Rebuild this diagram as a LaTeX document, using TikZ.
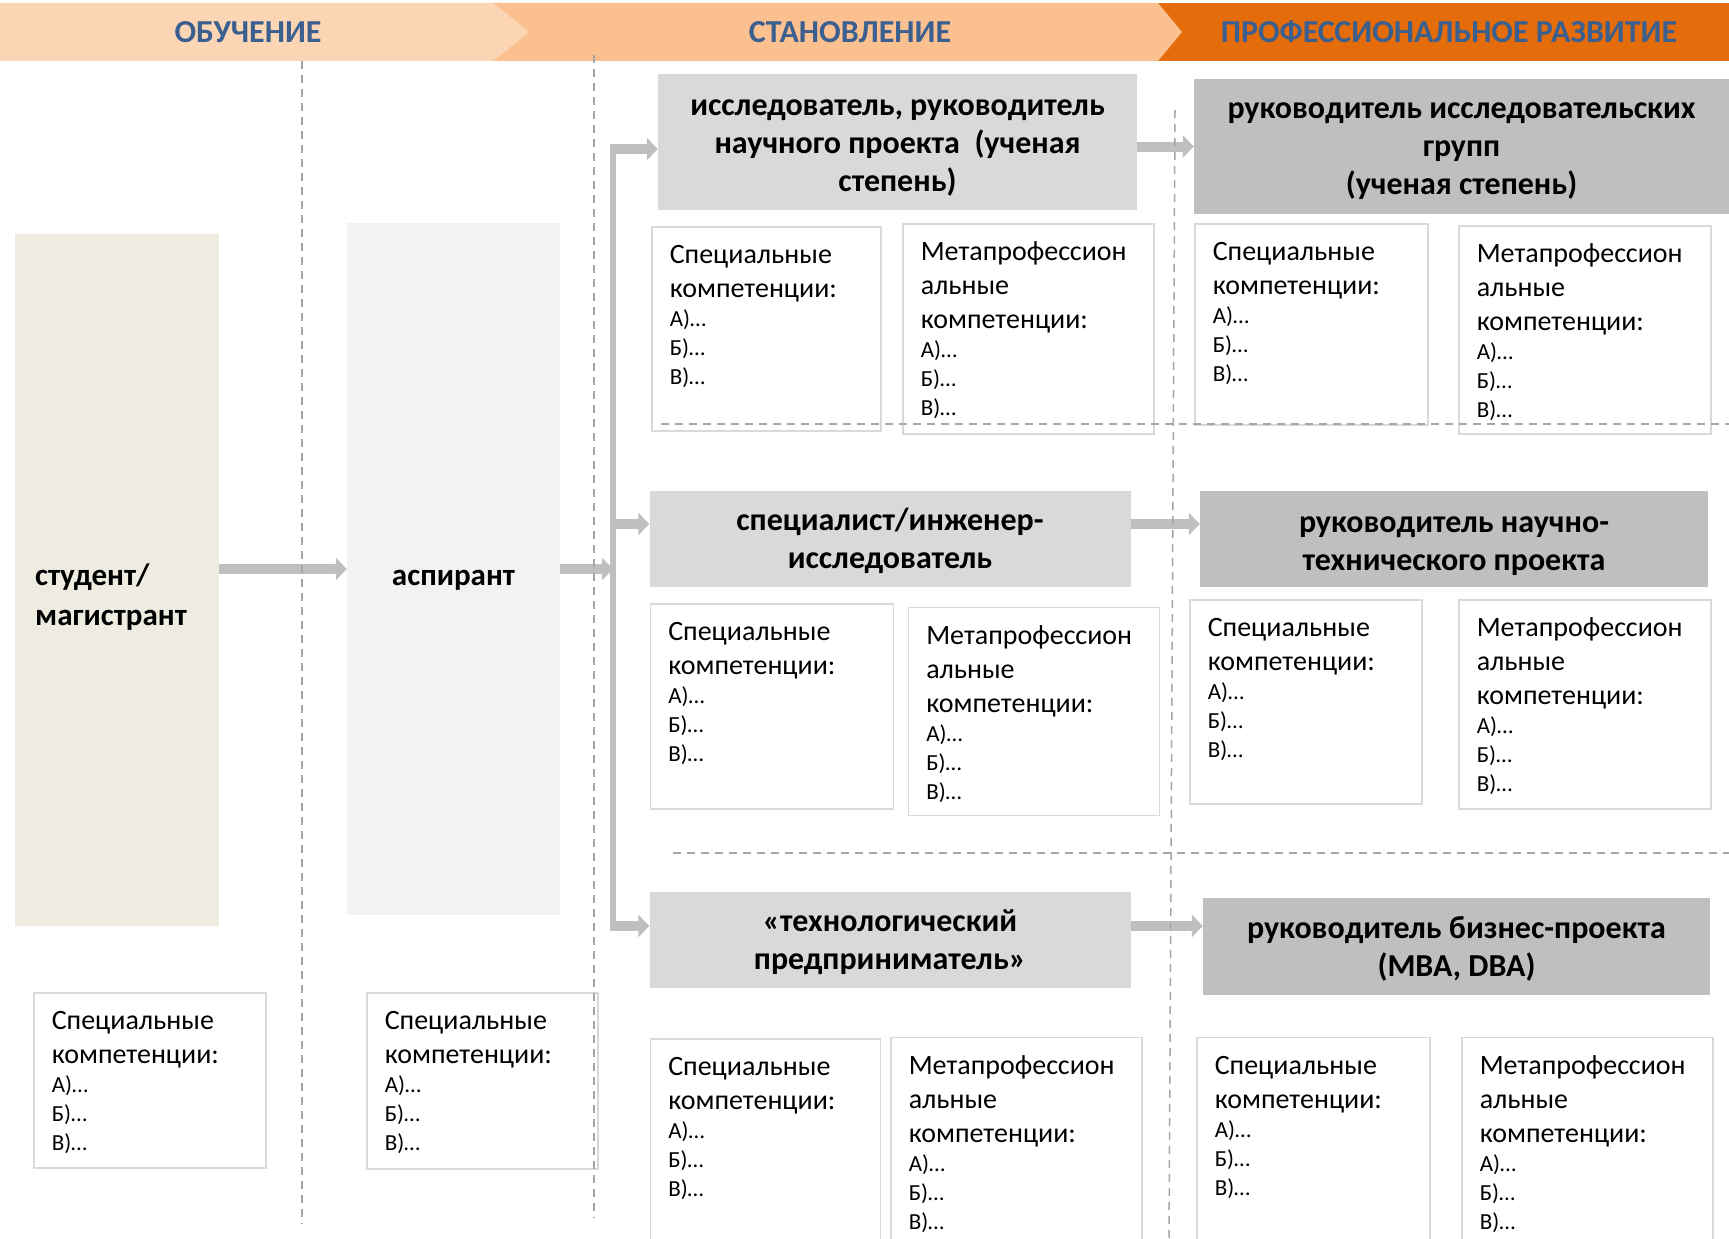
\documentclass[tikz,border=0pt]{standalone}
\usepackage{fontspec}
\setmainfont{Carlito}
\usetikzlibrary{arrows.meta}
\definecolor{hdrA}{HTML}{FCD5B5}
\definecolor{hdrB}{HTML}{FAC090}
\definecolor{hdrC}{HTML}{E46C0A}
\definecolor{hdrtxt}{HTML}{3B5F8E}
\definecolor{beige}{HTML}{EEECE1}
\definecolor{aspgray}{HTML}{F2F2F2}
\definecolor{rolelt}{HTML}{D9D9D9}
\definecolor{roledk}{HTML}{BFBFBF}
\definecolor{arrgray}{HTML}{BFBFBF}
\definecolor{compline}{HTML}{D9D9D9}
\definecolor{dashgray}{HTML}{A6A6A6}
\tikzset{>={Triangle[width=22pt,length=11pt]}}
\tikzset{comp/.style={draw=compline,line width=1.5pt,fill=white,anchor=north west,
    align=left,inner xsep=18pt,inner ysep=0pt,text height=37pt,
    font=\fontsize{28}{34}\selectfont}}

\newcommand{\speclist}{{\fontsize{28}{34}\selectfont Специальные\\компетенции:\par}%
  {\fontsize{23}{29}\selectfont А)…\\Б)…\\В)…\par}}
\newcommand{\metalist}{{\fontsize{28}{34}\selectfont Метапрофессион\\альные\\компетенции:\par}%
  {\fontsize{23}{29}\selectfont А)…\\Б)…\\В)…\par}}

\begin{document}
\begin{tikzpicture}[x=1pt,y=-1pt]
\useasboundingbox (0,0) rectangle (1729,1239);
% header band
\fill[hdrC] (1156,3) rectangle (1729,61);
\fill[hdrB] (493,3) -- (1158,3) -- (1182,32) -- (1158,61) -- (493,61) -- cycle;
\fill[hdrA] (0,3) -- (493,3) -- (529,32) -- (493,61) -- (0,61) -- cycle;
\begin{scope}[every node/.style={text=hdrtxt,font=\fontsize{32}{38}\selectfont\bfseries}]
\node (obuch) at (248,32) {ОБУЧЕНИЕ};
\node (stanov) at (850,32) {СТАНОВЛЕНИЕ};
\node (razv) at (1449,32) {ПРОФЕССИОНАЛЬНОЕ РАЗВИТИЕ};
\end{scope}

% student / postgraduate
\begin{scope}[every node/.style={font=\fontsize{31}{40}\selectfont\bfseries}]
\node[fill=beige,minimum width=204pt,minimum height=692pt] (stud) at (117,580) {};
\node[anchor=west,align=left,inner sep=0pt] (studtxt) at (35,597) {студент/\\магистрант};
\node[fill=aspgray,minimum width=213pt,minimum height=692pt,text height=33pt,text depth=0pt] (asp) at (453.5,569) {аспирант};
\end{scope}

% roles
\begin{scope}[every node/.style={inner sep=0pt,align=center,text depth=0pt,font=\fontsize{32}{38}\selectfont\bfseries}]
\node[fill=rolelt,minimum width=479pt,minimum height=136pt] (R1) at (897.5,142) {\rule{0pt}{23pt}исследователь, руководитель\\научного проекта\ \ (ученая\\степень)};
\node[fill=roledk,minimum width=535pt,minimum height=135pt] (R2) at (1461.5,146.5) {\rule{0pt}{20.5pt}руководитель исследовательских\\групп\\(ученая степень)};
\node[fill=rolelt,minimum width=481pt,minimum height=96pt,text depth=1pt] (M1) at (890,539) {специалист/инженер-\\исследователь};
\node[fill=roledk,minimum width=508pt,minimum height=96pt] (M2) at (1454,539) {\rule{0pt}{24pt}руководитель научно-\\технического проекта};
\node[fill=rolelt,minimum width=481pt,minimum height=96pt] (B1) at (890,940) {\rule{0pt}{19.5pt}«технологический\\предприниматель»};
\node[fill=roledk,minimum width=507pt,minimum height=97pt] (B2) at (1456.5,946.5) {руководитель бизнес-проекта\\(MBA, DBA)};
\end{scope}

% competences
\node[comp,text width=196pt,text depth=138pt] (studSpec) at (33,992) {\speclist};
\node[comp,text width=195pt,text depth=139pt] (aspSpec) at (366,992) {\speclist};
\node[comp,text width=193pt,text depth=167pt] (issSpec) at (651,226) {\speclist};
\node[comp,text width=215pt,text depth=173pt] (issMeta) at (902,223) {\metalist};
\node[comp,text width=197pt,text depth=164pt] (rukSpec) at (1194,223) {\speclist};
\node[comp,text width=216pt,text depth=171pt] (rukMeta) at (1458,225) {\metalist};
\node[comp,text width=207pt,text depth=168pt] (ingSpec) at (649.5,603) {\speclist};
\node[comp,text width=215pt,text depth=171pt] (ingMeta) at (907.5,606.5) {\metalist};
\node[comp,text width=196pt,text depth=167pt] (ntpSpec) at (1189,599) {\speclist};
\node[comp,text width=216pt,text depth=172pt] (ntpMeta) at (1458,599) {\metalist};
\node[comp,text width=194pt,text depth=200pt] (tpSpec) at (649.5,1038) {\speclist};
\node[comp,text width=215pt,text depth=200pt] (tpMeta) at (890,1036.5) {\metalist};
\node[comp,text width=197pt,text depth=200pt] (bizSpec) at (1196,1036.5) {\speclist};
\node[comp,text width=215pt,text depth=200pt] (bizMeta) at (1461,1036.5) {\metalist};

% arrows
\coordinate (jt) at (613,149);
\coordinate (jm) at (613,524);
\coordinate (jb) at (613,926);
\begin{scope}[every edge/.style={draw=arrgray,line width=10pt}]
    \path [->] (stud.east |- asp) edge (asp.west);
    \path [->] (asp.east) edge (asp.east -| jm);
    \path (jt) edge [line width=6pt,line cap=rect] (jb);
    \path [->] ([xshift=-3pt]jt) edge (R1.west |- jt);
    \path [->] (jm) edge (M1.west |- jm);
    \path [->] ([xshift=-3pt]jb) edge (B1.west |- jb);
    \path [->] (R1.east |- R2) edge (R2.west);
    \path [->] (M1.east |- jm) edge (M2.west |- jm);
    \path [->] (B1.east |- jb) edge (B2.west |- jb);
\end{scope}

% dashed borders
\begin{scope}[dashgray,line width=1.5pt,dash pattern=on 8pt off 6pt]
\draw (302,61) -- (302,1224);
\draw (594,55) -- (594,1218);
\draw (1175,110) -- (1169,1239);
\draw (661,424) -- (1729,424);
\draw (673,853) -- (1729,853);
\end{scope}
\end{tikzpicture}
\end{document}
